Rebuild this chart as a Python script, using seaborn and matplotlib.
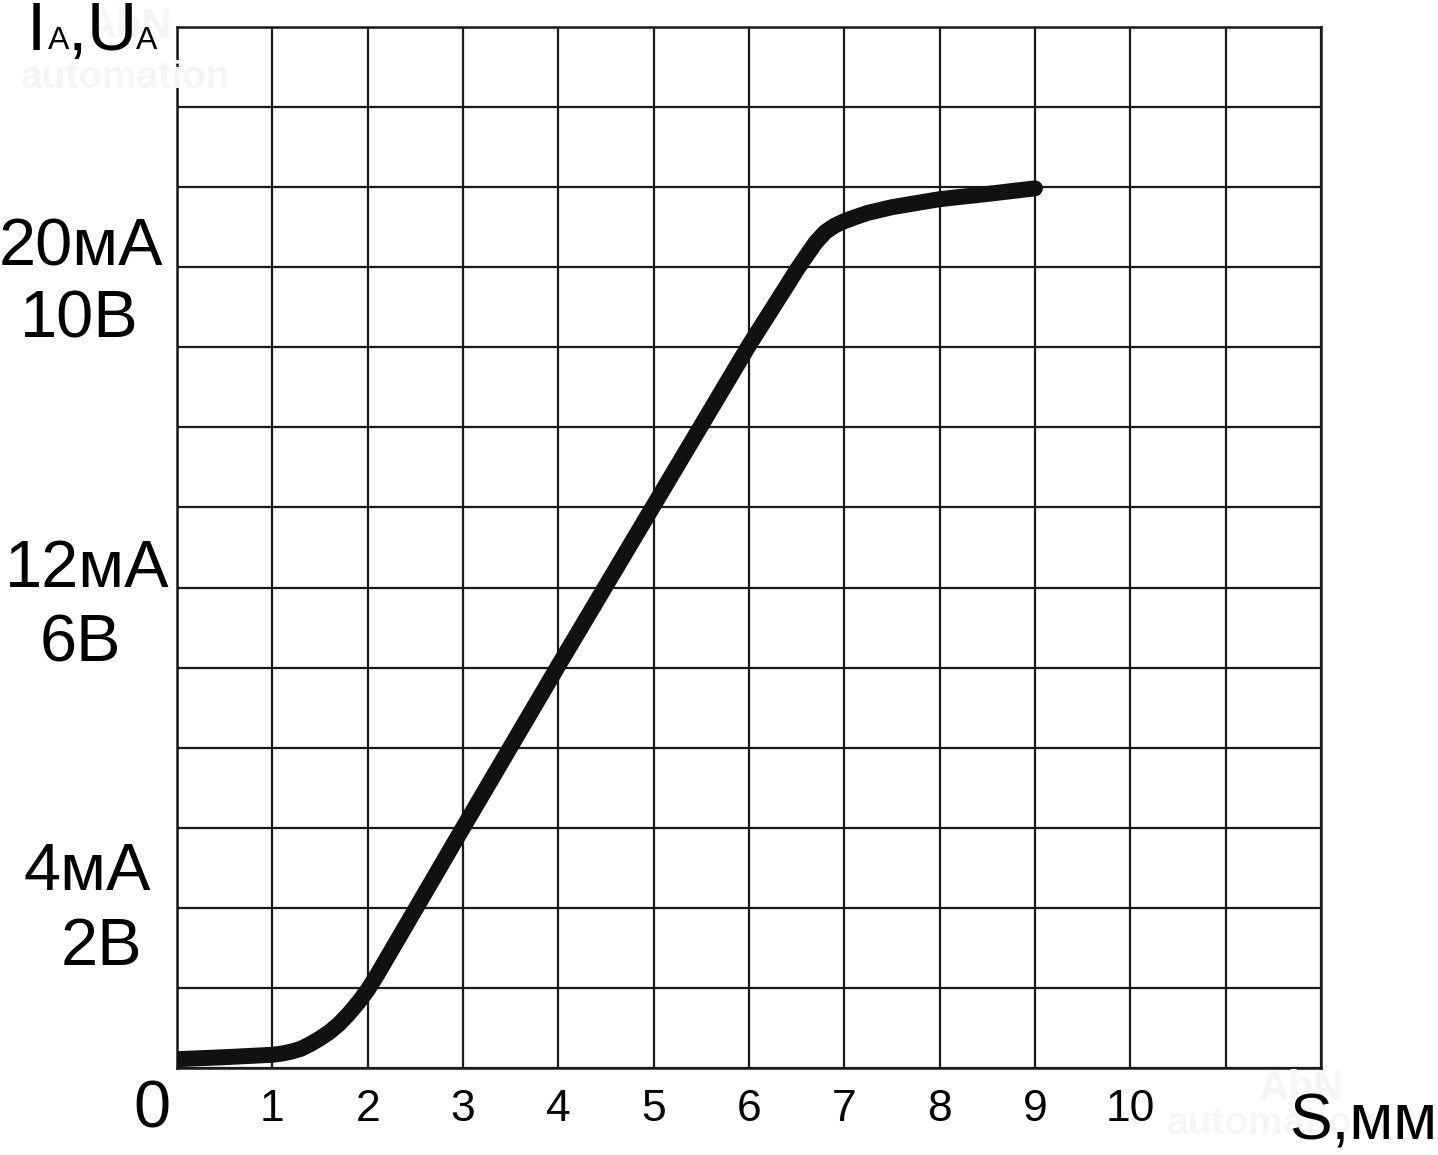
import matplotlib
matplotlib.use("Agg")
import matplotlib.pyplot as plt
import seaborn as sns
import pandas as pd

# curve: S in mm, output in mA (1 V = 2 mA)
s_mm = [0, 0.5, 1.0, 1.1, 1.2, 1.3, 1.4, 1.5, 1.6, 1.7, 1.8, 1.9, 2.0, 2.1,
        3, 4, 5, 6, 6.4, 6.5, 6.6, 6.7, 6.8, 6.9, 7.0, 7.1, 7.25, 7.5, 8.0, 8.5, 9.0]
i_ma = [0.22, 0.27, 0.33, 0.36, 0.41, 0.48, 0.6, 0.74, 0.9, 1.1, 1.35, 1.63, 1.95, 2.33,
        6.0, 10.05, 14.05, 18.05, 19.55, 19.93, 20.28, 20.62, 20.88, 21.04, 21.15, 21.24, 21.36, 21.5,
        21.7, 21.83, 21.97]

x_ticks = list(range(13))
x_tick_labels = ["", "1", "2", "3", "4", "5", "6", "7", "8", "9", "10", "", ""]
y_ticks = list(range(0, 27, 2))

# y labels: (text, centre x px, baseline y px)
y_labels = [("20мА", 81, 265), ("10В", 79, 338),
            ("12мА", 87, 587), ("6В", 80, 662),
            ("4мА", 87, 890), ("2В", 101, 965),
            ("0", 152, 1127)]

W, H = 1438, 1155

sns.set_style("white")
plt.rcParams["font.family"] = ["Liberation Sans", "DejaVu Sans"]
plt.rcParams["text.color"] = "black"
plt.rcParams["xtick.color"] = "black"

df = pd.DataFrame({"s": s_mm, "i": i_ma})

fig = plt.figure(figsize=(W / 100, H / 100), dpi=100)
ax = fig.add_axes([177 / W, 1 - 1068 / H, (1321 - 177) / W, (1068 - 27) / H])


def fx(px):
    return px / W


def fy(py):
    return 1 - py / H


# very faint watermark
wm = "#f5f5f5"
fig.text(fx(130), fy(38), "AbN", fontsize=30, fontweight="bold", color=wm, ha="center", va="baseline", zorder=0)
fig.text(fx(126), fy(88), "automation", fontsize=28, fontweight="bold", color=wm, ha="center", va="baseline", zorder=0)
fig.text(fx(1302), fy(1100), "AbN", fontsize=30, fontweight="bold", color=wm, ha="center", va="baseline", zorder=0)
fig.text(fx(1272), fy(1134), "automation", fontsize=28, fontweight="bold", color=wm, ha="center", va="baseline", zorder=0)

ax.patch.set_alpha(0)
sns.lineplot(data=df, x="s", y="i", ax=ax, color="#111111", linewidth=11.5,
             solid_capstyle="round", solid_joinstyle="round", zorder=5)

ax.set_xlim(0, 12)
ax.set_ylim(0, 26)
ax.set_xticks(x_ticks)
ax.set_xticklabels(x_tick_labels, fontsize=32)
ax.set_yticks(y_ticks)
ax.set_yticklabels([])
ax.tick_params(length=0, pad=15)
ax.grid(True, color="#1a1a1a", linewidth=1.6)
ax.set_axisbelow(True)
for sp in ax.spines.values():
    sp.set_visible(True)
    sp.set_color("#1a1a1a")
    sp.set_linewidth(1.8)
ax.set_xlabel("")
ax.set_ylabel("")

for txt, cx, by in y_labels:
    fig.text(fx(cx), fy(by), txt, fontsize=48, ha="center", va="baseline")

# axis names
fig.text(fx(36.5), fy(50), "I", fontsize=50, ha="center", va="baseline")
fig.text(fx(58.5), fy(49), "A", fontsize=23, ha="center", va="baseline")
fig.text(fx(77), fy(50), ",", fontsize=50, ha="center", va="baseline")
fig.text(fx(111.5), fy(50), "U", fontsize=50, ha="center", va="baseline")
fig.text(fx(146.5), fy(49), "A", fontsize=23, ha="center", va="baseline")
fig.text(fx(1289), fy(1140), "S,мм", fontsize=46, ha="left", va="baseline")

fig.savefig("out.png", dpi=100)
